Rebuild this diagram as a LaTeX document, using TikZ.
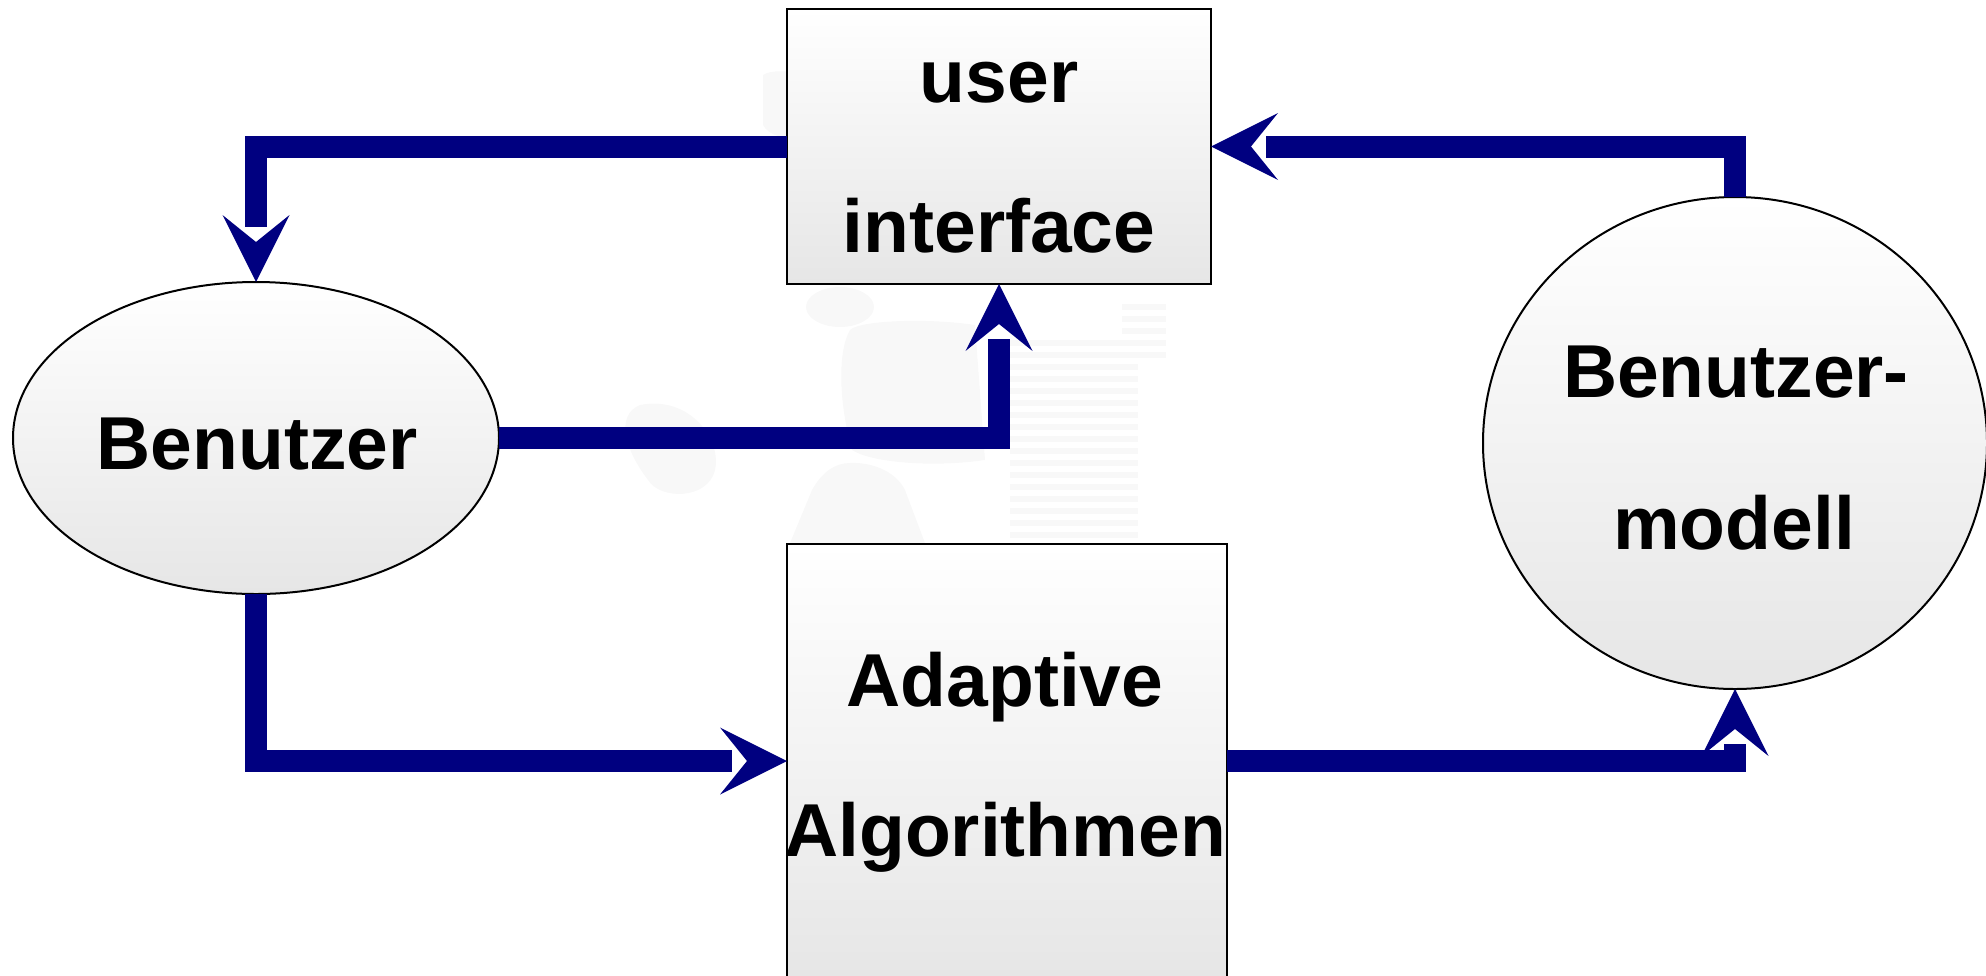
\documentclass[tikz,border=0pt]{standalone}
\usepackage{fontspec}
\setmainfont{Liberation Sans}
\usetikzlibrary{arrows.meta,shapes.geometric}
\definecolor{navyline}{RGB}{0,0,128}
\definecolor{shadegray}{RGB}{230,230,230}
\definecolor{ghost}{RGB}{248,248,248}
\begin{document}
\begin{tikzpicture}[x=0.5pt,y=-0.5pt,
  boxshape/.style={draw=black, line width=1pt, top color=white, bottom color=shadegray, inner sep=0pt, outer sep=0pt},
  rectbox/.style={boxshape, rectangle},
  ellbox/.style={boxshape, ellipse},
  lbl/.style={font=\fontsize{37.5pt}{45pt}\selectfont\bfseries, anchor=base, inner sep=0pt},
  flowline/.style={draw=navyline, line width=11pt, line join=miter, shorten >=27.5pt},
  flowtip/.style={draw=navyline, line width=0.1pt,
    -{Stealth[length=33.5pt,width=33.5pt,inset=13.5pt,line width=0pt]}},
  ghostfill/.style={fill=ghost, draw=none},
  ghoststripe/.style={draw=ghost, line width=3pt},
]
\useasboundingbox (0,0) rectangle (1986,975);
% faint background figure
\fill[ghostfill] (763,75) .. controls (770,70) and (790,70) .. (800,75) -- (800,137) .. controls (785,140) and (768,135) .. (763,125) -- cycle;
\fill[ghostfill] (840,307) ellipse [x radius=17pt, y radius=10pt];
\fill[ghostfill] (850,330) .. controls (860,320) and (930,318) .. (975,325)
  -- (985,460) .. controls (930,468) and (870,462) .. (852,450)
  .. controls (838,400) and (838,350) .. (850,330) -- cycle;
\fill[ghostfill] (640,405) .. controls (690,395) and (722,440) .. (715,470)
  .. controls (708,500) and (660,500) .. (648,480)
  .. controls (625,450) and (615,415) .. (640,405) -- cycle;
\fill[ghostfill] (850,463) .. controls (870,462) and (895,470) .. (905,490)
  -- (925,543) -- (790,543) -- (812,490) .. controls (822,472) and (835,463) .. (850,463) -- cycle;
\foreach \yy in {307,319,331,343,355} \draw[ghoststripe] (1122,\yy) -- (1166,\yy);
\foreach \yy in {343,355,367,379,391,403,415,427,439,451,463,475,487,499,511,523,535}
  \draw[ghoststripe] (1010,\yy) -- (1138,\yy);

\begin{scope}
\clip (0,0) rectangle (1986,975);
\node[rectbox, minimum width=212pt, minimum height=137.5pt] (ui) at (999,146.5) {};
\node[ellbox, minimum width=243pt, minimum height=156pt] (ben) at (256,438) {};
\node[rectbox, minimum width=220pt, minimum height=217pt] (adapt) at (1007,761) {};
\node[ellbox, minimum width=252pt, minimum height=246pt] (mod) at (1735,443) {};
\end{scope}

\node[lbl] (uiA) at (999,102) {user};
\node[lbl] (uiB) at (999,252) {interface};
\node[lbl] (benA) at (257,469) {Benutzer};
\node[lbl] (adA) at (1005,706) {Adaptive};
\node[lbl] (adB) at (1005,856) {Algorithmen};
\node[lbl] (modA) at (1736,397) {Benutzer-};
\node[lbl] (modB) at (1734,549) {modell};

\draw[flowline] (ui.west) -| (ben.north);
\draw[flowline] (ben.east) -| (ui.south);
\draw[flowline] (mod.north) |- (ui.east);
\draw[flowline] (ben.south) |- (adapt.west);
\draw[flowline] (adapt.east) -| (mod.south);

\draw[flowtip] ([yshift=1pt]ben.north) -- (ben.north);
\draw[flowtip] ([yshift=-1pt]ui.south) -- (ui.south);
\draw[flowtip] ([xshift=1pt]ui.east) -- (ui.east);
\draw[flowtip] ([xshift=-1pt]adapt.west) -- (adapt.west);
\draw[flowtip] ([yshift=-1pt]mod.south) -- (mod.south);
\end{tikzpicture}
\end{document}
